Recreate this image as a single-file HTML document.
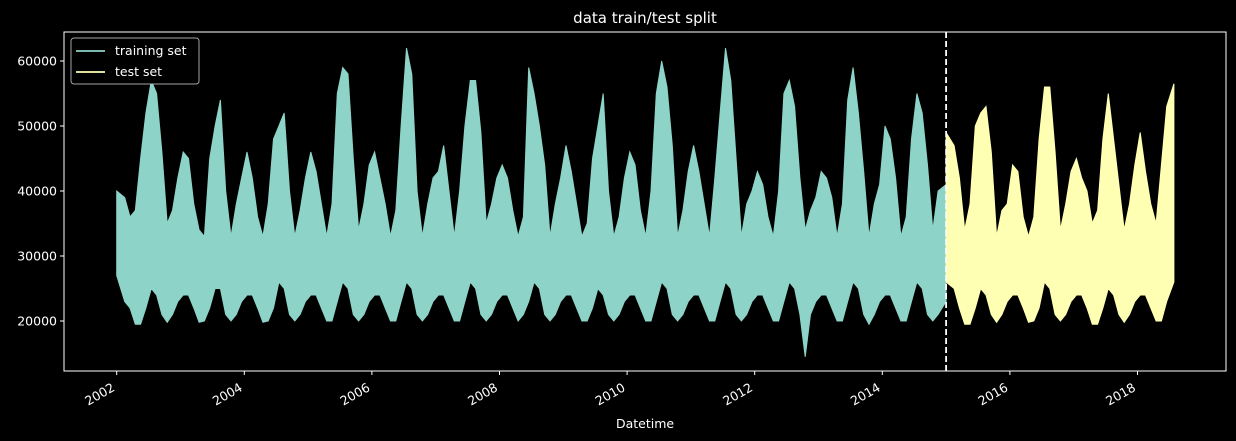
<!DOCTYPE html>
<html><head><meta charset="utf-8"><style>
html,body{margin:0;padding:0;background:#000;}
svg{display:block;font-family:"DejaVu Sans","Liberation Sans",sans-serif;}
</style></head><body>
<svg id="chart" width="1236" height="441" viewBox="0 0 1236 441" xmlns="http://www.w3.org/2000/svg">
<rect width="1236" height="441" fill="#000"/>
<text x="645" y="23" fill="#fff" font-size="15" text-anchor="middle">data train/test split</text>
<g id="series"></g>
<g id="axes"></g>
<text x="645" y="428" fill="#fff" font-size="12.5" text-anchor="middle">Datetime</text>
<g>
<rect x="71" y="38" width="128" height="46" rx="3" fill="#000" stroke="#ccc" stroke-opacity="0.8" stroke-width="1"/>
<line x1="76" y1="51" x2="105" y2="51" stroke="#8dd3c7" stroke-width="1.8"/>
<text x="115" y="55" fill="#fff" font-size="12.5">training set</text>
<line x1="76" y1="72" x2="105" y2="72" stroke="#ffffb3" stroke-width="1.8"/>
<text x="115" y="76" fill="#fff" font-size="12.5">test set</text>
</g>
</svg>
<script>
// monthly envelope (thousands MW); training Jan 2002 - Dec 2014, test Jan 2015 - Jul 2018
const trainMax = [
40,39,36,37,45,52,57,55,46,35,37,42,
46,45,38,34,33,45,50,54,40,33,38,42,
46,42,36,33,38,48,50,52,40,33,37,42,
46,43,38,33,38,55,59,58,45,34,38,44,
46,42,38,33,37,50,62,58,40,33,38,42,
43,47,40,33,40,50,57,57,49,35,38,42,
44,42,37,33,36,59,55,50,44,33,38,42,
47,43,38,33,35,45,50,55,40,33,36,42,
46,44,37,33,40,55,60,56,47,33,37,43,
47,43,38,33,42,52,62,57,45,33,38,40,
43,41,36,33,40,55,57,53,42,34,37,39,
43,42,39,33,38,54,59,52,43,33,38,41,
50,48,42,33,36,48,55,52,44,34,40,41];
const trainMin = [
27,23,22,19.5,19.5,22,25,24,21,19.8,21,23,
24,24,22,19.8,20,22,25,25,21,20,21,23,
24,24,22,19.8,20,22,26,25,21,20,21,23,
24,24,22,20,20,23,26,25,21,20,21,23,
24,24,22,20,20,23,26,25,21,20,21,23,
24,24,22,20,20,23,26,25,21,20,21,23,
24,24,22,20,21,23,26,25,21,20,21,23,
24,24,22,20,20,22,25,24,21,20,21,23,
24,24,22,20,20,23,26,25,21,20,21,23,
24,24,22,20,20,23,26,25,21,20,21,23,
24,24,22,20,20,23,26,25,21,14.5,21,23,
24,24,22,20,20,23,26,25,21,19.5,21,23,
24,24,22,20,20,23,26,25,21,20,21,23];
const testMax = [
49,47,42,34,38,50,52,53,46,33,37,38,
44,43,36,33,36,48,56,56,46,34,38,43,
45,42,40,35,37,48,55,48,41,34,38,44,
49,43,38,35,44,53,56.5];
const testMin = [
26,25,22,19.5,19.5,22,25,24,21,19.8,21,23,
24,24,22,19.8,20,22,26,25,21,20,21,23,
24,24,22,19.5,19.5,22,25,24,21,19.8,21,23,
24,24,22,20,20,23,26];
const yTicks = [20000,30000,40000,50000,60000];
const xTicks = [2002,2004,2006,2008,2010,2012,2014,2016,2018];
const splitYear = 2015;
const startYear = 2002;

const L=64,R=1226,T=32,B=371;
function xs(yr){return 116.7+(yr-2002)*63.8;}
function ys(v){return 321-(v-20000)*0.0065;}
const NS="http://www.w3.org/2000/svg";
function mk(tag,attrs,parent){const e=document.createElementNS(NS,tag);for(const k in attrs)e.setAttribute(k,attrs[k]);parent.appendChild(e);return e;}

function envelope(maxArr,minArr,y0,endYear){
  const n=maxArr.length;
  const tAt=i=>(i===0?y0:(i===n-1?endYear:y0+(i+0.5)/12));
  let top=[],bot=[];
  for(let i=0;i<n;i++){const t=tAt(i);top.push(xs(t).toFixed(1)+","+ys(maxArr[i]*1000).toFixed(1));}
  for(let i=n-1;i>=0;i--){const t=tAt(i);bot.push(xs(t).toFixed(1)+","+ys(minArr[i]*1000).toFixed(1));}
  return top.concat(bot).join(" ");
}
const sg=document.getElementById("series");
const tr=mk("polygon",{points:envelope(trainMax,trainMin,startYear,splitYear),fill:"#8dd3c7",stroke:"#8dd3c7","stroke-width":"1"},sg);


const te=mk("polygon",{points:envelope(testMax,testMin,splitYear,2018.57),fill:"#ffffb3",stroke:"#ffffb3","stroke-width":"1"},sg);



const ax=document.getElementById("axes");
const split=mk("line",{x1:xs(splitYear),x2:xs(splitYear),y1:T,y2:B,stroke:"#fff","stroke-width":"1.8","stroke-dasharray":"6,3"},ax);


const frame=mk("rect",{x:L,y:T,width:R-L,height:B-T,fill:"none",stroke:"#fff","stroke-width":"1"},ax);


yTicks.forEach(v=>{
  const y=ys(v);
  const tk=mk("line",{x1:L-4,x2:L,y1:y,y2:y,stroke:"#fff"},ax);
  
  
  const t=mk("text",{x:L-7,y:y+4.5,fill:"#fff","font-size":"12.5","text-anchor":"end"},ax);
  t.textContent=v;
  
  
});
xTicks.forEach(v=>{
  const x=xs(v);
  const tk=mk("line",{x1:x,x2:x,y1:B,y2:B+4,stroke:"#fff"},ax);
  
  
  const ty=B+19;
  const t=mk("text",{x:x-1,y:ty,fill:"#fff","font-size":"12.5","text-anchor":"end",transform:"rotate(-30 "+(x-1)+" "+ty+")"},ax);
  t.textContent=v;
  
  
});
</script>
</body></html>
